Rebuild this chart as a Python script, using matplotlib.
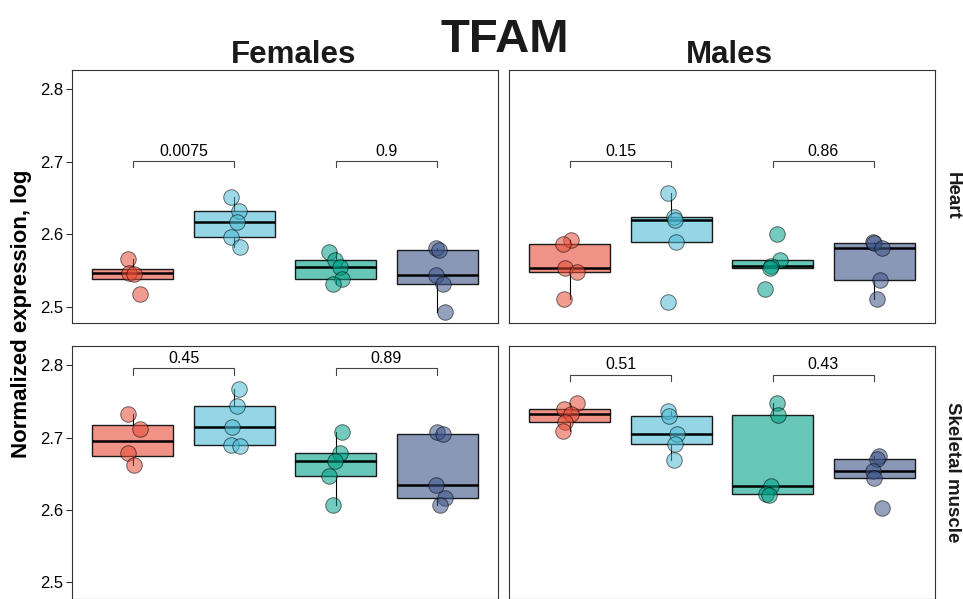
import matplotlib
matplotlib.use("Agg")
import matplotlib.pyplot as plt

plt.rcParams['font.family'] = ['Liberation Sans', 'DejaVu Sans']

# groups drawn left to right in every panel
colors = ['#E64B35', '#4DBBD5', '#00A087', '#3C5488']
positions = [1, 2, 3, 4]

# Heart, females
heart_f = [[2.5655, 2.547, 2.5452, 2.5177],
           [2.651, 2.632, 2.6174, 2.5967, 2.582],
           [2.576, 2.5645, 2.5553, 2.538, 2.5315],
           [2.5807, 2.5783, 2.5439, 2.5315, 2.4924]]
heart_f_jit = [[-0.051, -0.041, 0.015, 0.074],
               [-0.03, 0.043, 0.026, -0.03, 0.059],
               [-0.066, -0.01, 0.046, 0.066, -0.026],
               [-0.015, 0.018, -0.008, 0.057, 0.08]]

# Heart, males
heart_m = [[2.592, 2.5862, 2.5535, 2.5476, 2.5103],
           [2.6574, 2.6234, 2.6197, 2.5898, 2.5062],
           [2.6004, 2.5645, 2.5563, 2.5531, 2.5245],
           [2.5898, 2.5876, 2.5807, 2.5361, 2.5103]]
heart_m_jit = [[0.016, -0.066, -0.049, 0.066, -0.056],
               [-0.033, 0.026, 0.033, 0.049, -0.033],
               [0.044, 0.067, -0.015, -0.025, -0.074],
               [-0.014, 0.002, 0.077, 0.061, 0.028]]

# Skeletal muscle, females
muscle_f = [[2.732, 2.712, 2.679, 2.662],
            [2.7666, 2.7437, 2.7149, 2.6901, 2.6887],
            [2.7082, 2.6787, 2.6672, 2.6475, 2.6063],
            [2.7082, 2.7045, 2.634, 2.6166, 2.6066]]
muscle_f_jit = [[-0.051, 0.074, -0.051, 0.015],
                [0.043, 0.026, -0.023, -0.03, 0.059],
                [0.066, 0.046, -0.01, -0.069, -0.026],
                [0.002, 0.057, -0.008, 0.074, 0.025]]

# Skeletal muscle, males
muscle_m = [[2.7482, 2.7401, 2.7323, 2.7222, 2.7094],
            [2.7365, 2.730, 2.705, 2.6905, 2.669],
            [2.7482, 2.7313, 2.6328, 2.6214, 2.62],
            [2.675, 2.6705, 2.6544, 2.6444, 2.6031]]
muscle_m_jit = [[0.075, -0.056, 0.016, -0.049, -0.066],
                [-0.033, -0.023, 0.059, 0.033, 0.023],
                [0.044, 0.057, -0.015, -0.064, -0.032],
                [0.051, 0.028, -0.014, -0.005, 0.074]]

pvals = [['0.0075', '0.9'], ['0.15', '0.86'], ['0.45', '0.89'], ['0.51', '0.43']]
bracket_y = [2.701, 2.701, 2.796, 2.787]

col_titles = ['Females', 'Males']
row_titles = ['Heart', 'Skeletal muscle']
yticks = [2.5, 2.6, 2.7, 2.8]

fig = plt.figure(figsize=(9.63, 5.99), dpi=100)

W, H = 963, 599
def add_ax(x0, y0, x1, y1):
    return fig.add_axes([x0 / W, 1 - y1 / H, (x1 - x0) / W, (y1 - y0) / H])

axes = [add_ax(72, 70, 498, 323.3), add_ax(509, 70, 935, 323.3),
        add_ax(72, 346, 498, 599), add_ax(509, 346, 935, 599)]
panel_data = [heart_f, heart_m, muscle_f, muscle_m]
panel_jit = [heart_f_jit, heart_m_jit, muscle_f_jit, muscle_m_jit]

for i, ax in enumerate(axes):
    data = panel_data[i]
    bp = ax.boxplot(data, positions=positions, widths=0.8, patch_artist=True,
                    showfliers=False, showcaps=False, whis=1.5,
                    medianprops=dict(color='black', linewidth=1.8),
                    whiskerprops=dict(color='black', linewidth=0.8),
                    boxprops=dict(linewidth=1.0))
    for patch, c in zip(bp['boxes'], colors):
        patch.set_facecolor(matplotlib.colors.to_rgba(c, 0.6))
        patch.set_edgecolor('#1a1a1a')

    for g in range(4):
        xs = [positions[g] + j for j in panel_jit[i][g]]
        ax.scatter(xs, data[g], s=125, color=colors[g], alpha=0.55,
                   edgecolors='black', linewidths=0.7, zorder=5)

    # comparison brackets
    yb = bracket_y[i]
    for k, (a, b) in enumerate([(1, 2), (3, 4)]):
        ax.plot([a, a, b, b], [yb - 0.009, yb, yb, yb - 0.009],
                color='#444444', linewidth=0.8)
        ax.text((a + b) / 2, yb + 0.003, pvals[i][k], ha='center', va='bottom',
                fontsize=11.5)

    ax.set_xlim(0.4, 4.6)
    ax.set_ylim(2.477, 2.8265)
    ax.set_xticks([])
    ax.set_yticks(yticks)
    for s in ax.spines.values():
        s.set_color('#333333')
        s.set_linewidth(0.8)
    if i % 2 == 0:
        ax.tick_params(axis='y', labelsize=12, length=4, width=0.8, color='#333333', pad=2)
    else:
        ax.tick_params(axis='y', left=False, labelleft=False)

fig.text(505 / W, 1 - 52 / H, 'TFAM', ha='center', va='baseline',
         fontsize=34, fontweight='bold', color='#1a1a1a')
fig.text(294 / W, 1 - 63 / H, col_titles[0], ha='center', va='baseline',
         fontsize=22.5, fontweight='bold', color='#1a1a1a')
fig.text(729 / W, 1 - 63 / H, col_titles[1], ha='center', va='baseline',
         fontsize=22.5, fontweight='bold', color='#1a1a1a')
fig.text(952 / W, 1 - 196 / H, row_titles[0], ha='center', va='center',
         rotation=-90, fontsize=13.5, fontweight='bold', color='#1a1a1a')
fig.text(952 / W, 1 - 472 / H, row_titles[1], ha='center', va='center',
         rotation=-90, fontsize=13.5, fontweight='bold', color='#1a1a1a')
fig.text(22 / W, 1 - 314 / H, 'Normalized expression, log', ha='center',
         va='center', rotation=90, fontsize=16, fontweight='bold')

fig.savefig('out.png', dpi=100)
